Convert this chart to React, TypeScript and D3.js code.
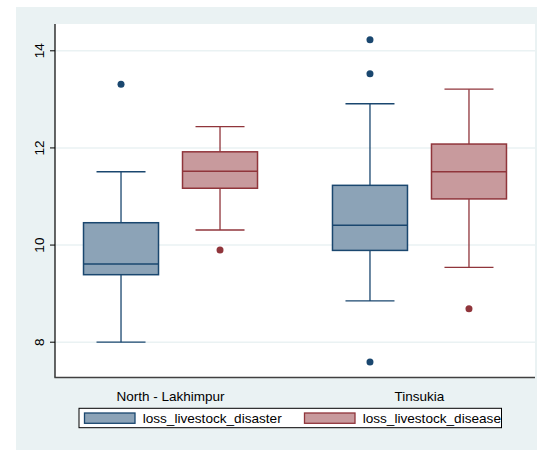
import React, { useEffect, useRef } from 'react';
import * as d3 from 'd3';

// categories and series
const groups = ['North - Lakhimpur', 'Tinsukia'];
const seriesNames = ['loss_livestock_disaster', 'loss_livestock_disease'];

// box stats per group: [lower whisker, q1, median, q3, upper whisker]
const disasterStats = [
  [8.0, 9.39, 9.61, 10.46, 11.51],
  [8.85, 9.89, 10.41, 11.23, 12.91],
];
const diseaseStats = [
  [10.31, 11.17, 11.52, 11.92, 12.44],
  [9.54, 10.95, 11.51, 12.08, 13.21],
];
const disasterOutliers = [[13.31], [14.23, 13.53, 7.59]];
const diseaseOutliers = [[9.9], [8.69]];

const yTicks = [8, 10, 12, 14];

const fills = ['#8ca3b7', '#c89a9d'];
const strokes = ['#1a476f', '#90353b'];

const App = () => {
  const svgRef = useRef<SVGSVGElement>(null);

  useEffect(() => {
    const svg = d3.select(svgRef.current);
    svg.selectAll('*').remove();

    const width = 542;
    const height = 450;
    const plot = { left: 55, right: 535, top: 24, bottom: 377.5 };
    const font = 'Liberation Sans, Arial, sans-serif';

    // outer background
    svg.append('rect')
      .attr('x', 16).attr('y', 7)
      .attr('width', 537 - 16).attr('height', height - 7)
      .attr('fill', '#eaf2f3');

    // plot region
    svg.append('rect')
      .attr('x', plot.left).attr('y', plot.top)
      .attr('width', plot.right - plot.left).attr('height', plot.bottom - plot.top)
      .attr('fill', '#ffffff');

    const y = d3.scaleLinear().domain([8, 14]).range([342.2, 50.8]);

    const x = d3.scalePoint<string>()
      .domain(groups)
      .range([plot.left, plot.right])
      .padding(0.464);

    const offset = d3.scalePoint<string>()
      .domain(seriesNames)
      .range([-49.5, 49.5]);

    const boxW = 75;
    const capW = 49;

    // grid lines
    svg.append('g')
      .selectAll('line')
      .data(yTicks)
      .join('line')
      .attr('x1', plot.left).attr('x2', plot.right)
      .attr('y1', d => y(d)).attr('y2', d => y(d))
      .attr('stroke', '#eaf2f3')
      .attr('stroke-width', 1.5);

    const allStats = [disasterStats, diseaseStats];
    const allOutliers = [disasterOutliers, diseaseOutliers];

    seriesNames.forEach((s, si) => {
      groups.forEach((g, gi) => {
        const [lo, q1, med, q3, hi] = allStats[si][gi];
        const cx = (x(g) as number) + (offset(s) as number);
        const gg = svg.append('g');
        const col = strokes[si];

        // whiskers
        gg.append('line')
          .attr('x1', cx).attr('x2', cx)
          .attr('y1', y(hi)).attr('y2', y(q3))
          .attr('stroke', col).attr('stroke-width', 1.3);
        gg.append('line')
          .attr('x1', cx).attr('x2', cx)
          .attr('y1', y(q1)).attr('y2', y(lo))
          .attr('stroke', col).attr('stroke-width', 1.3);
        [lo, hi].forEach(v => {
          gg.append('line')
            .attr('x1', cx - capW / 2).attr('x2', cx + capW / 2)
            .attr('y1', y(v)).attr('y2', y(v))
            .attr('stroke', col).attr('stroke-width', 1.3);
        });

        // box
        gg.append('rect')
          .attr('x', cx - boxW / 2)
          .attr('y', y(q3))
          .attr('width', boxW)
          .attr('height', y(q1) - y(q3))
          .attr('fill', fills[si])
          .attr('stroke', col)
          .attr('stroke-width', 1.5);
        gg.append('line')
          .attr('x1', cx - boxW / 2).attr('x2', cx + boxW / 2)
          .attr('y1', y(med)).attr('y2', y(med))
          .attr('stroke', col).attr('stroke-width', 1.5);

        // outliers
        gg.selectAll('circle')
          .data(allOutliers[si][gi])
          .join('circle')
          .attr('cx', cx)
          .attr('cy', d => y(d))
          .attr('r', 3.5)
          .attr('fill', col);
      });
    });

    // y axis
    const yAxis = svg.append('g');
    yAxis.append('line')
      .attr('x1', plot.left).attr('x2', plot.left)
      .attr('y1', plot.top).attr('y2', plot.bottom)
      .attr('stroke', '#000').attr('stroke-width', 1.2);
    yTicks.forEach(t => {
      yAxis.append('line')
        .attr('x1', 50).attr('x2', plot.left)
        .attr('y1', y(t)).attr('y2', y(t))
        .attr('stroke', '#000').attr('stroke-width', 1);
      yAxis.append('text')
        .attr('transform', `translate(43.5, ${y(t)}) rotate(-90)`)
        .attr('text-anchor', 'middle')
        .attr('font-family', font)
        .attr('font-size', '13.6px')
        .attr('fill', '#000')
        .text(t);
    });

    // x axis
    svg.append('line')
      .attr('x1', plot.left - 0.6).attr('x2', plot.right)
      .attr('y1', plot.bottom).attr('y2', plot.bottom)
      .attr('stroke', '#404040').attr('stroke-width', 1.4);
    groups.forEach(g => {
      svg.append('text')
        .attr('x', x(g) as number)
        .attr('y', 400.5)
        .attr('text-anchor', 'middle')
        .attr('font-family', font)
        .attr('font-size', '13.5px')
        .attr('fill', '#000')
        .text(g);
    });

    // legend
    const legend = svg.append('g');
    legend.append('rect')
      .attr('x', 79).attr('y', 408.3)
      .attr('width', 422.5).attr('height', 19.4)
      .attr('fill', '#fff')
      .attr('stroke', '#000')
      .attr('stroke-width', 1);
    const legendX = [84.5, 304.5];
    seriesNames.forEach((s, i) => {
      legend.append('rect')
        .attr('x', legendX[i]).attr('y', 413)
        .attr('width', 50.5).attr('height', 10.3)
        .attr('fill', fills[i])
        .attr('stroke', strokes[i])
        .attr('stroke-width', 1.3);
      legend.append('text')
        .attr('x', legendX[i] + 58.2)
        .attr('y', 423)
        .attr('font-family', font)
        .attr('font-size', '13.6px')
        .attr('fill', '#000')
        .text(s);
    });

    svg.attr('width', width).attr('height', height);
  }, []);

  return (
    <svg
      ref={svgRef}
      width={542}
      height={450}
      style={{ position: 'absolute', left: 0, top: 0, background: '#fff' }}
    />
  );
};

export default App;
